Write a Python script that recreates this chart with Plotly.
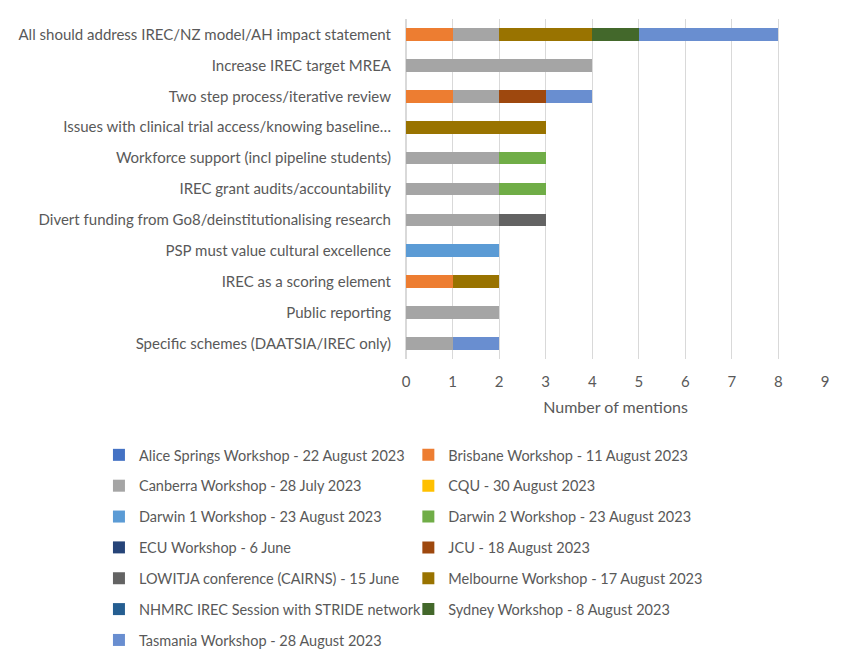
import plotly.graph_objects as go

# categories, top to bottom
themes = [
    "All should address IREC/NZ model/AH impact statement",
    "Increase IREC target MREA",
    "Two step process/iterative review",
    "Issues with clinical trial access/knowing baseline…",
    "Workforce support (incl pipeline students)",
    "IREC grant audits/accountability",
    "Divert funding from Go8/deinstitutionalising research",
    "PSP must value cultural excellence",
    "IREC as a scoring element",
    "Public reporting",
    "Specific schemes (DAATSIA/IREC only)",
]

# mentions per workshop, one value per theme (same order as themes)
alice_springs = [0, 0, 0, 0, 0, 0, 0, 0, 0, 0, 0]
brisbane      = [1, 0, 1, 0, 0, 0, 0, 0, 1, 0, 0]
canberra      = [1, 4, 1, 0, 2, 2, 2, 0, 0, 2, 1]
cqu           = [0, 0, 0, 0, 0, 0, 0, 0, 0, 0, 0]
darwin1       = [0, 0, 0, 0, 0, 0, 0, 2, 0, 0, 0]
darwin2       = [0, 0, 0, 0, 1, 1, 0, 0, 0, 0, 0]
ecu           = [0, 0, 0, 0, 0, 0, 0, 0, 0, 0, 0]
jcu           = [0, 0, 1, 0, 0, 0, 0, 0, 0, 0, 0]
lowitja       = [0, 0, 0, 0, 0, 0, 1, 0, 0, 0, 0]
melbourne     = [2, 0, 0, 3, 0, 0, 0, 0, 1, 0, 0]
nhmrc         = [0, 0, 0, 0, 0, 0, 0, 0, 0, 0, 0]
sydney        = [1, 0, 0, 0, 0, 0, 0, 0, 0, 0, 0]
tasmania      = [3, 0, 1, 0, 0, 0, 0, 0, 0, 0, 1]

# (name, values, colour, legend column)
series = [
    ("Alice Springs Workshop - 22 August 2023", alice_springs, "#4472C4", "legend"),
    ("Brisbane Workshop - 11 August 2023", brisbane, "#ED7D31", "legend2"),
    ("Canberra Workshop - 28 July 2023", canberra, "#A5A5A5", "legend"),
    ("CQU - 30 August 2023", cqu, "#FFC000", "legend2"),
    ("Darwin 1 Workshop - 23 August 2023", darwin1, "#5B9BD5", "legend"),
    ("Darwin 2 Workshop - 23 August 2023", darwin2, "#70AD47", "legend2"),
    ("ECU Workshop - 6 June", ecu, "#264478", "legend"),
    ("JCU - 18 August 2023", jcu, "#9E480E", "legend2"),
    ("LOWITJA conference (CAIRNS) - 15 June", lowitja, "#636363", "legend"),
    ("Melbourne Workshop - 17 August 2023", melbourne, "#997300", "legend2"),
    ("NHMRC IREC Session with STRIDE network", nhmrc, "#255E91", "legend"),
    ("Sydney Workshop - 8 August 2023", sydney, "#43682B", "legend2"),
    ("Tasmania Workshop - 28 August 2023", tasmania, "#698ED0", "legend"),
]

FONT = "Lato"
GREY = "#595959"

fig = go.Figure()
for name, vals, col, leg in series:
    fig.add_trace(go.Bar(
        y=themes, x=vals, name=name, orientation="h",
        marker=dict(color=col, line=dict(width=0)),
        legend=leg, legendgroup=name,
    ))

legend_style = dict(
    orientation="v", traceorder="grouped", tracegroupgap=9,
    xref="container", yref="container",
    xanchor="left", yanchor="top", y=0.352,
    font=dict(family=FONT, size=14.5, color=GREY),
    bgcolor="rgba(0,0,0,0)",
)

fig.update_layout(
    width=850, height=665,
    barmode="stack", bargap=0.59,
    plot_bgcolor="white", paper_bgcolor="white",
    margin=dict(l=398, r=33, t=11, b=314, autoexpand=False),
    font=dict(family=FONT, size=15, color=GREY),
    xaxis=dict(
        range=[0, 9], dtick=1, showgrid=True, gridcolor="#D9D9D9", gridwidth=1,
        zeroline=True, zerolinecolor="#D9D9D9", showline=False,
        tickfont=dict(size=15, color=GREY), ticklabelstandoff=12,
        title=dict(text="Number of mentions", font=dict(size=16, color=GREY), standoff=12),
    ),
    yaxis=dict(
        autorange="reversed", showgrid=False, showline=False,
        tickfont=dict(size=15, color=GREY), ticklabelstandoff=14,
    ),
    legend=dict(legend_style, x=0.107),
    legend2=dict(legend_style, x=0.471),
)

fig.write_html("out.html")
